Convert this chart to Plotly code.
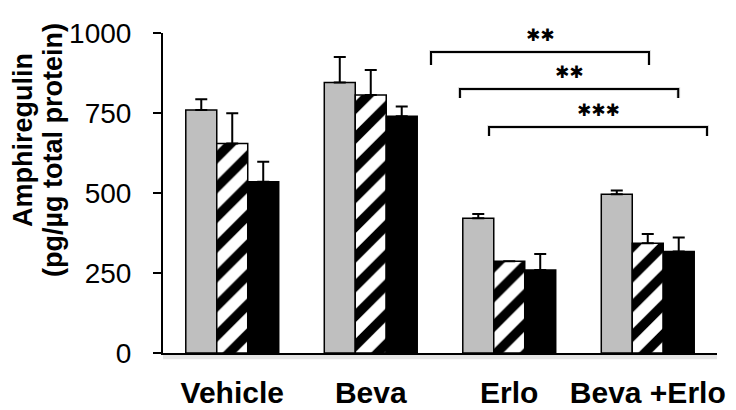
import plotly.graph_objects as go

# data
groups = ["Vehicle", "Beva", "Erlo", "Beva +Erlo"]
series_a = [759, 845, 421, 496]   # gray
series_b = [655, 806, 287, 343]   # hatched
series_c = [535, 740, 259, 317]   # black
err_a = [34, 80, 13, 12]
err_b = [94, 78, 0, 29]
err_c = [63, 30, 50, 44]

y_ticks = [0, 250, 500, 750, 1000]

# significance brackets: start, end (category index units), height, label
br_start = [1.435, 1.644, 1.854]
br_end = [3.009, 3.22, 3.428]
br_top = [941, 825, 706]
br_drop = [41, 28, 28]
br_label = ["✱✱", "✱✱", "✱✱✱"]

FONT = "Arial, Liberation Sans, sans-serif"

fig = go.Figure()

bar_line = dict(color="black", width=1.5)
err_style = dict(type="data", symmetric=False, arrayminus=[0, 0, 0, 0],
                 color="black", thickness=2, width=6)

fig.add_trace(go.Bar(x=groups, y=series_a,
                     marker=dict(color="#bfbfbf", line=bar_line),
                     error_y=dict(array=err_a, **err_style)))
fig.add_trace(go.Bar(x=groups, y=series_b,
                     marker=dict(color="white", line=bar_line,
                                 pattern=dict(shape="/", fgcolor="black", bgcolor="white",
                                              fgopacity=1, size=21, solidity=0.45)),
                     error_y=dict(array=err_b, **err_style)))
fig.add_trace(go.Bar(x=groups, y=series_c,
                     marker=dict(color="black", line=bar_line),
                     error_y=dict(array=err_c, **err_style)))

# brackets + stars
for s, e, top, d, lab in zip(br_start, br_end, br_top, br_drop, br_label):
    path = f"M {s},{top - d} L {s},{top} L {e},{top} L {e},{top - d}"
    fig.add_shape(type="path", xref="x", yref="y", path=path,
                  line=dict(color="rgba(0,0,0,0.12)", width=4), layer="below")
    fig.add_shape(type="path", xref="x", yref="y", path=path,
                  line=dict(color="black", width=2))
    fig.add_annotation(x=(s + e) / 2, y=top, xref="x", yref="y", text=lab,
                       showarrow=False, yanchor="middle", yshift=17,
                       font=dict(family="DejaVu Sans", size=17, color="black"))

# soft shadow under x axis
fig.add_shape(type="line", xref="paper", yref="paper", x0=0, x1=1, y0=-0.012, y1=-0.012,
              line=dict(color="rgba(0,0,0,0.10)", width=5), layer="below")

# y axis title, two lines
fig.add_annotation(text="<b>Amphiregulin</b>", textangle=-90, showarrow=False,
                   xref="paper", yref="paper", xanchor="center", yanchor="middle",
                   x=(23 - 163) / 554, y=1 - (140 - 33) / 320,
                   font=dict(family=FONT, size=27, color="black"))
fig.add_annotation(text="<b>(pg/µg total protein)</b>", textangle=-90, showarrow=False,
                   xref="paper", yref="paper", xanchor="center", yanchor="middle",
                   x=(53 - 163) / 554, y=1 - (150 - 33) / 320,
                   font=dict(family=FONT, size=27, color="black"))

# page body adds an 8px offset, so the figure is 8px smaller and margins shifted
fig.update_layout(
    width=728, height=402,
    margin=dict(l=155, r=19, t=25, b=57),
    plot_bgcolor="white", paper_bgcolor="white",
    barmode="group", bargap=0.329, bargroupgap=0,
    showlegend=False,
    font=dict(family=FONT, color="black"),
)
fig.update_xaxes(showline=True, linecolor="black", linewidth=2, ticks="", automargin=False,
                 tickfont=dict(family=FONT, size=30, color="black", weight="bold"),
                 ticklabelstandoff=12, showgrid=False, zeroline=False)
fig.update_yaxes(range=[0, 1000], tickvals=y_ticks, showline=True, linecolor="black",
                 linewidth=2, ticks="outside", ticklen=8, tickwidth=2, tickcolor="black",
                 automargin=False, tickfont=dict(family=FONT, size=28, color="black"),
                 ticklabelstandoff=16, showgrid=False, zeroline=False)

fig.write_html("out.html")
